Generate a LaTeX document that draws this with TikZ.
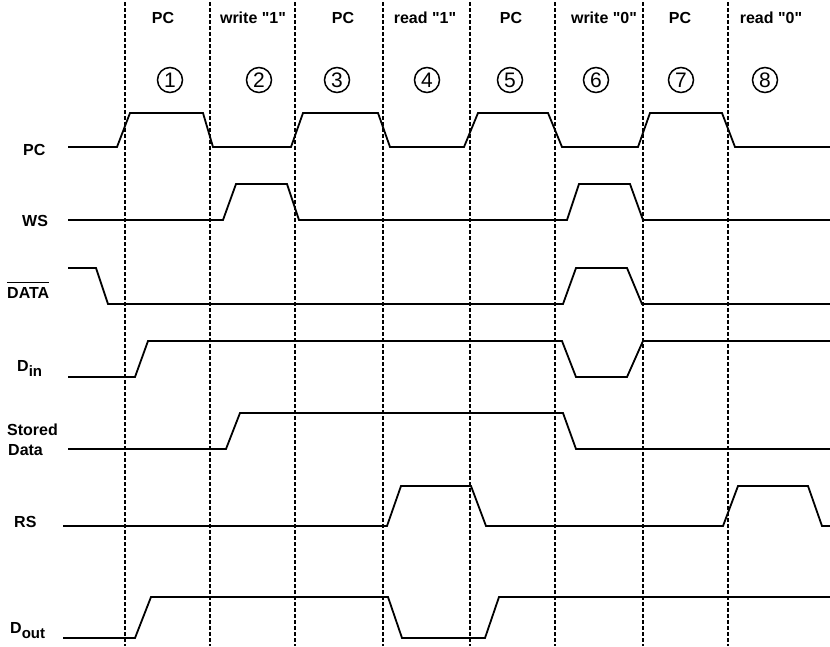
\documentclass[tikz,border=0pt]{standalone}
\usepackage{fontspec}
\setmainfont{Liberation Sans}[Ligatures=TeXOff]
\newcommand{\sbs}[1]{\raisebox{-5pt}{\fontsize{15}{15}\selectfont #1}}
\tikzset{
  sig/.style={line width=1.8pt, line join=miter},
  divider/.style={line width=1.2pt, dash pattern=on 4pt off 2pt},
  lbl/.style={font=\fontsize{16}{18}\selectfont\bfseries, inner sep=0pt},
  num/.style={circle, draw, line width=1.5pt, minimum size=25pt, inner sep=0pt, font=\fontsize{21}{21}\selectfont},
}
\begin{document}
\begin{tikzpicture}[x=1pt,y=-1pt]
\useasboundingbox (0,0) rectangle (830,646);
% dividers
\foreach \x/\n in {125/a,210/b,295/c,383/d,470/e,555/f,643/g,728/h}{
  \coordinate (t\n) at (\x,2);
  \coordinate (b\n) at (\x,646);
  \draw[divider] (t\n) -- (b\n);
}
% phase labels
\node[lbl,anchor=base] (p1) at (163,23) {PC};
\node[lbl,anchor=base] (p2) at (253,23) {write "1"};
\node[lbl,anchor=base] (p3) at (343,23) {PC};
\node[lbl,anchor=base] (p4) at (425,23) {read "1"};
\node[lbl,anchor=base] (p5) at (511,23) {PC};
\node[lbl,anchor=base] (p6) at (604,23) {write "0"};
\node[lbl,anchor=base] (p7) at (680,23) {PC};
\node[lbl,anchor=base] (p8) at (771,23) {read "0"};
% circled numbers
\node[num] (n1) at (170,80) {1};
\node[num] (n2) at (259,80) {2};
\node[num] (n3) at (337,80) {3};
\node[num] (n4) at (427,80) {4};
\node[num] (n5) at (510,80) {5};
\node[num] (n6) at (596,80) {6};
\node[num] (n7) at (681,80) {7};
\node[num] (n8) at (765,80) {8};
% signal labels
\node[lbl,anchor=west] (lpc) at (23,150) {PC};
\node[lbl,anchor=west] (lws) at (22,221) {WS};
\node[lbl,anchor=west] (ldata) at (7,293) {DATA};
\draw[line width=1.1pt] ([yshift=5pt]ldata.north west) -- ([yshift=5pt]ldata.north east);
\node[lbl,anchor=base west] (ldin) at (17,371) {D\sbs{in}};
\node[lbl,anchor=base west] (lstored) at (7,435) {Stored};
\node[lbl,anchor=base west] (lstored2) at (8,455) {Data};
\node[lbl,anchor=west] (lrs) at (14,522) {RS};
\node[lbl,anchor=base west] (ldout) at (10,633) {D\sbs{out}};
% waveforms
\draw[sig] (68,147) -- (117,147) -- (130,113) -- (203,113) -- (213,147) -- (291,147) -- (303,113) -- (378,113) -- (390,147) -- (464,147) -- (478,113) -- (548,113) -- (562,147) -- (638,147) -- (650,113) -- (722,113) -- (735,147) -- (830,147);
\draw[sig] (68,220) -- (223,220) -- (236,184) -- (287,184) -- (299,220) -- (567,220) -- (579,184) -- (630,184) -- (643,220) -- (830,220);
\draw[sig] (68,268) -- (96,268) -- (108,304) -- (563,304) -- (576,268) -- (627,268) -- (642,304) -- (830,304);
\draw[sig] (68,377) -- (135,377) -- (148,341) -- (562,341) -- (576,377) -- (627,377) -- (643,341) -- (830,341);
\draw[sig] (68,449) -- (226,449) -- (240,413) -- (563,413) -- (576,449) -- (830,449);
\draw[sig] (63,526) -- (387,526) -- (401,486) -- (471,486) -- (486,526) -- (723,526) -- (738,486) -- (808,486) -- (822,526) -- (830,526);
\draw[sig] (63,638) -- (135,638) -- (151,597) -- (388,597) -- (402,638) -- (485,638) -- (499,597) -- (830,597);
\end{tikzpicture}
\end{document}
